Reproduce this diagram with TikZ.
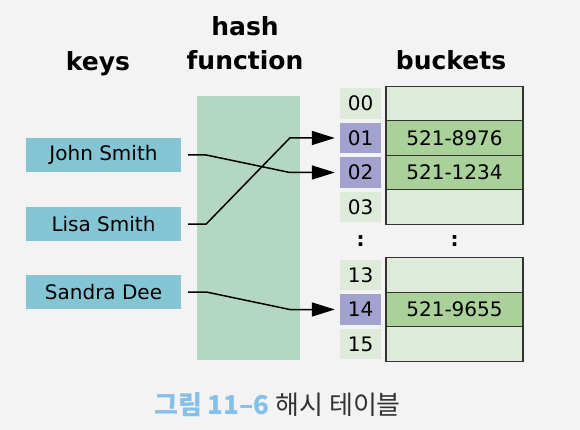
\documentclass[tikz,border=0pt]{standalone}
\usepackage{fontspec}
\setmainfont{DejaVu Sans}
\newfontfamily\kofont{Noto Sans CJK KR}
\usepackage{tikz}
\usetikzlibrary{arrows.meta, positioning, calc}

\definecolor{bgcol}{HTML}{F3F3F3}
\definecolor{hashcol}{HTML}{B3D7C3}
\definecolor{keycol}{HTML}{84C5D3}
\definecolor{idxcol}{HTML}{DEEBDA}
\definecolor{hitcol}{HTML}{A3A1CE}
\definecolor{emptycol}{HTML}{DFEBDA}
\definecolor{fullcol}{HTML}{AAD19A}
\definecolor{capblue}{HTML}{86C0E8}
\definecolor{captext}{HTML}{333333}

\begin{document}
\begin{tikzpicture}[%
    x=1pt, y=-1pt,      % pixel-like units, y downwards
    >={Triangle[length=23pt,width=14pt]},
    title/.style={font=\fontsize{25}{34}\selectfont\bfseries, anchor=base, align=center},
    keybox/.style={fill=keycol, minimum width=155pt, minimum height=34pt, inner sep=0pt,
                   font=\fontsize{20}{24}\selectfont},
    idx/.style={fill=idxcol, minimum width=41pt, minimum height=30.5pt, inner sep=0pt,
                font=\fontsize{20}{24}\selectfont},
    hit/.style={idx, fill=hitcol},
    slot/.style={draw=black!80, line width=1.2pt, fill=emptycol, minimum width=137pt,
                 minimum height=34.5pt, inner sep=0pt, font=\fontsize{20}{24}\selectfont},
    full/.style={slot, fill=fullcol},
    link/.style={->, line width=1.5pt, shorten >=5pt}
]

    % ==========================================
    % 0. Canvas
    % ==========================================
    \fill[bgcol] (0,0) rectangle (580,430);
    \useasboundingbox (0,0) rectangle (580,430);

    % ==========================================
    % 1. Titles
    % ==========================================
    \node[title] (keys) at (98,71) {keys};
    \node[title] (hashtitle) at (245,70) {hash\\function};   % base = last line
    \node[title] (buckets) at (451,70) {buckets};

    % ==========================================
    % 2. Keys and hash function
    % ==========================================
    \node[keybox] (john) at (103.5,155) {John Smith};
    \node[keybox] (lisa) at (103.5,224) {Lisa Smith};
    \node[keybox] (sandra) at (103.5,292) {Sandra Dee};

    \node[fill=hashcol, minimum width=103pt, minimum height=264pt, inner sep=0pt]
        (hashbox) at (248.5,228) {};

    % ==========================================
    % 3. Buckets (index + slot)
    % ==========================================
    \node[idx] (i00) at (360.5,103.5) {00};
    \node[hit] (i01) at (360.5,138) {01};
    \node[hit] (i02) at (360.5,172.5) {02};
    \node[idx] (i03) at (360.5,207) {03};
    \node[idx] (i13) at (360.5,275) {13};
    \node[hit] (i14) at (360.5,309.5) {14};
    \node[idx] (i15) at (360.5,344) {15};

    \node[slot] (b00) at (454.5,103.5) {};
    \node[full] (b01) at (454.5,138) {521-8976};
    \node[full] (b02) at (454.5,172.5) {521-1234};
    \node[slot] (b03) at (454.5,207) {};
    \node[slot] (b13) at (454.5,275) {};
    \node[full] (b14) at (454.5,309.5) {521-9655};
    \node[slot] (b15) at (454.5,344) {};

    % gap marks
    \node[font=\fontsize{20}{24}\selectfont\bfseries] (gapi) at (360.5,241) {:};
    \node[font=\fontsize{20}{24}\selectfont\bfseries] (gapb) at (454.5,241) {:};

    % ==========================================
    % 4. Hashing (Edges)
    % ==========================================
    % John Smith -> 02
    \draw[link] ([xshift=7pt]john.east) -- ++(18,0) -- ([xshift=-50pt]i02.west) -- (i02.west);
    % Lisa Smith -> 01
    \draw[link] ([xshift=7pt]lisa.east) -- ++(18,0) -- ([xshift=-50pt]i01.west) -- (i01.west);
    % Sandra Dee -> 14
    \draw[link] ([xshift=7pt]sandra.east) -- ++(18,0) -- ([xshift=-50pt]i14.west) -- (i14.west);

    % ==========================================
    % 5. Caption
    % ==========================================
    \node[anchor=base, font=\kofont\fontsize{26}{30}\selectfont, text=captext] (caption)
        at (277.5,414) {{\color{capblue}\bfseries 그림 11–6} 해시 테이블};

\end{tikzpicture}
\end{document}
